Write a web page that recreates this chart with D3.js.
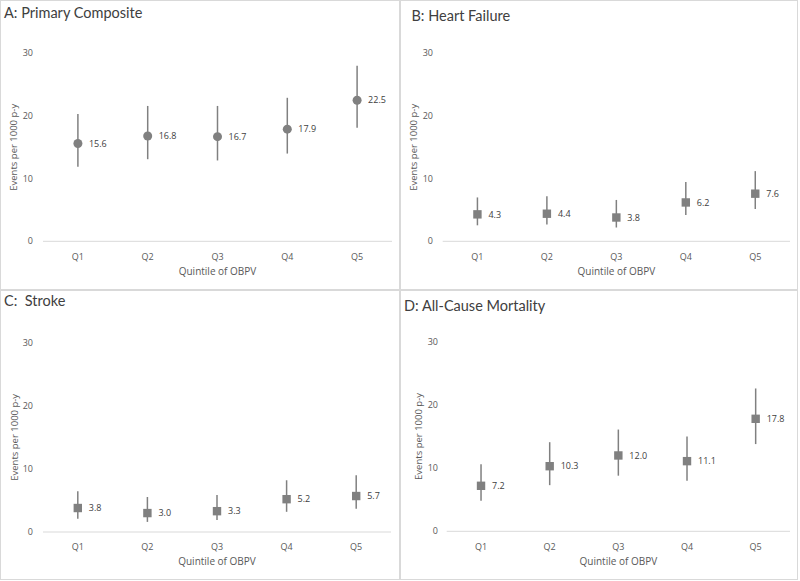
<!DOCTYPE html>
<html>
<head>
<meta charset="utf-8">
<script src="https://cdn.jsdelivr.net/npm/d3@7"></script>
<style>
  body { margin: 0; background: #fff; }
  svg { display: block; font-family: "Open Sans", "Segoe UI", sans-serif; }
</style>
</head>
<body>
<svg id="chart" width="800" height="581"></svg>
<script>
// ---- data ----
const categories = ["Q1", "Q2", "Q3", "Q4", "Q5"];
const yTicks = [0, 10, 20, 30];
const panelTitles = ["A: Primary Composite", "B: Heart Failure", "C:\u00a0 Stroke", "D: All-Cause Mortality"];
const xAxisTitle = "Quintile of OBPV";
const yAxisTitle = "Events per 1000 p-y";

const compositeValues = [15.6, 16.8, 16.7, 17.9, 22.5];
const compositeLower  = [11.9, 13.1, 12.9, 14.0, 18.1];
const compositeUpper  = [20.3, 21.6, 21.6, 22.9, 28.0];

const heartFailureValues = [4.3, 4.4, 3.8, 6.2, 7.6];
const heartFailureLower  = [2.55, 2.7, 2.2, 4.2, 5.15];
const heartFailureUpper  = [7.0, 7.2, 6.6, 9.45, 11.2];

const strokeValues = [3.8, 3.0, 3.3, 5.2, 5.7];
const strokeLower  = [2.1, 1.6, 1.9, 3.2, 3.7];
const strokeUpper  = [6.45, 5.55, 5.85, 8.2, 9.0];

const mortalityValues = [7.2, 10.3, 12.0, 11.1, 17.8];
const mortalityLower  = [4.85, 7.3, 8.8, 8.0, 13.8];
const mortalityUpper  = [10.6, 14.1, 16.1, 15.0, 22.6];

// ---- layout ----
const panels = [
  { title: panelTitles[0], values: compositeValues, lower: compositeLower, upper: compositeUpper, marker: "circle",
    box: [0.5, 0.5, 399, 289], plot: { x0: 43, x1: 392, yTop: 53.3, yBot: 241.3 }, titleX: 4, titleY: 17.5,
    tickX: 33, yTitleX: 13, catY: 260, axTitleY: 275 },
  { title: panelTitles[1], values: heartFailureValues, lower: heartFailureLower, upper: heartFailureUpper, marker: "square",
    box: [400.5, 0.5, 397, 289], plot: { x0: 442.7, x1: 790, yTop: 53.3, yBot: 241.3 }, titleX: 411.5, titleY: 20.7,
    tickX: 433, yTitleX: 413.3, catY: 260, axTitleY: 275 },
  { title: panelTitles[2], values: strokeValues, lower: strokeLower, upper: strokeUpper, marker: "square",
    box: [0.5, 290.5, 399, 289], plot: { x0: 43, x1: 391, yTop: 342.7, yBot: 532 }, titleX: 4, titleY: 305.7,
    tickX: 33, yTitleX: 14, catY: 550, axTitleY: 565 },
  { title: panelTitles[3], values: mortalityValues, lower: mortalityLower, upper: mortalityUpper, marker: "square",
    box: [400.5, 290.5, 397, 289], plot: { x0: 446.7, x1: 790, yTop: 341.7, yBot: 531.3 }, titleX: 404, titleY: 310.5,
    tickX: 438, yTitleX: 418.3, catY: 550, axTitleY: 565 }
];

const svg = d3.select("#chart");
const markColor = "#808080";

panels.forEach(p => {
  const g = svg.append("g");
  g.append("rect")
    .attr("x", p.box[0]).attr("y", p.box[1]).attr("width", p.box[2]).attr("height", p.box[3])
    .attr("fill", "#fff").attr("stroke", "#d9d9d9").attr("stroke-width", 1);

  g.append("text").attr("x", p.titleX).attr("y", p.titleY)
    .attr("font-family", "Lato, 'Open Sans', sans-serif")
    .attr("font-size", 14.5).attr("fill", "#404040").text(p.title);

  const x = d3.scaleBand().domain(categories).range([p.plot.x0, p.plot.x1]);
  const y = d3.scaleLinear().domain([0, 30]).range([p.plot.yBot, p.plot.yTop]);

  // baseline
  g.append("line").attr("x1", p.plot.x0).attr("x2", p.plot.x1)
    .attr("y1", y(0)).attr("y2", y(0)).attr("stroke", "#d9d9d9").attr("stroke-width", 1);

  // y tick labels
  g.selectAll(".yt").data(yTicks).enter().append("text")
    .attr("x", p.tickX).attr("y", d => y(d)).attr("dy", "0.35em")
    .attr("text-anchor", "end").attr("font-size", 9).attr("fill", "#595959")
    .text(d => d);

  // category labels
  g.selectAll(".xt").data(categories).enter().append("text")
    .attr("x", d => x(d) + x.bandwidth() / 2).attr("y", p.catY)
    .attr("text-anchor", "middle").attr("font-size", 9).attr("fill", "#595959")
    .text(d => d);

  // axis titles
  g.append("text").attr("x", (p.plot.x0 + p.plot.x1) / 2).attr("y", p.axTitleY)
    .attr("text-anchor", "middle").attr("font-size", 10).attr("fill", "#595959").text(xAxisTitle);
  g.append("text")
    .attr("transform", `translate(${p.yTitleX + 3.5},${(p.plot.yTop + p.plot.yBot) / 2}) rotate(-90)`)
    .attr("text-anchor", "middle").attr("font-size", 9.5).attr("fill", "#595959").text(yAxisTitle);

  const data = categories.map((c, i) => ({ c, v: p.values[i], lo: p.lower[i], hi: p.upper[i] }));
  const cx = d => x(d.c) + x.bandwidth() / 2;

  // error bars
  g.selectAll(".eb").data(data).enter().append("line")
    .attr("x1", cx).attr("x2", cx)
    .attr("y1", d => y(d.lo)).attr("y2", d => y(d.hi))
    .attr("stroke", markColor).attr("stroke-width", 1.5);

  // markers
  if (p.marker === "circle") {
    g.selectAll(".mk").data(data).enter().append("circle")
      .attr("cx", cx).attr("cy", d => y(d.v)).attr("r", 4.5).attr("fill", markColor);
  } else {
    g.selectAll(".mk").data(data).enter().append("rect")
      .attr("x", d => cx(d) - 4.2).attr("y", d => y(d.v) - 4.2)
      .attr("width", 8.4).attr("height", 8.4).attr("fill", markColor);
  }

  // data labels
  g.selectAll(".dl").data(data).enter().append("text")
    .attr("x", d => cx(d) + 11).attr("y", d => y(d.v)).attr("dy", "0.35em")
    .attr("font-size", 9).attr("fill", "#404040")
    .text(d => d.v.toFixed(1));
});
</script>
</body>
</html>
